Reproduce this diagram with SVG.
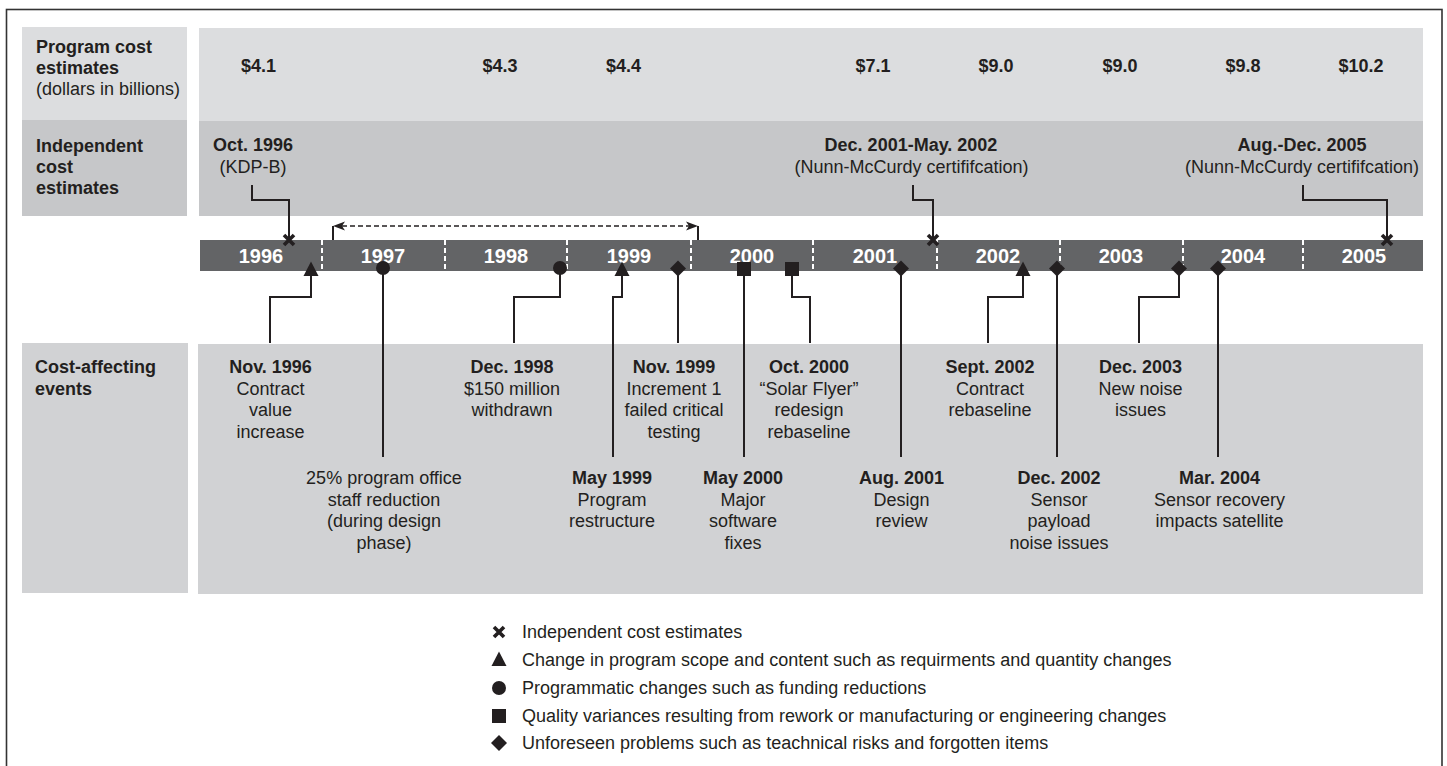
<svg xmlns="http://www.w3.org/2000/svg" width="1447" height="766" viewBox="0 0 1447 766">
<style>
text{font-family:"Liberation Sans",Arial,sans-serif;font-size:18px;fill:#231f20}
.b{font-weight:bold}
.c{text-anchor:middle}
.yr{font-weight:bold;font-size:20px;fill:#ffffff;text-anchor:middle}
.ln{fill:none;stroke:#231f20;stroke-width:2}
.dv{stroke:#ffffff;stroke-width:2;stroke-dasharray:5,3}
.mk{fill:#231f20}
</style>
<defs>
<path id="mx" d="M-5,-5L5,5M5,-5L-5,5" stroke="#231f20" stroke-width="3.6" fill="none"/>
<polygon id="mtri" points="0,-7.5 7.5,7 -7.5,7" class="mk"/>
<circle id="mcir" r="7" class="mk"/>
<rect id="msq" x="-7" y="-7" width="14" height="14" class="mk"/>
<polygon id="mdia" points="0,-8 8,0 0,8 -8,0" class="mk"/>
</defs>
<rect x="0" y="0" width="1447" height="766" fill="#ffffff"/>
<rect x="6.5" y="9.5" width="1435.5" height="780" fill="none" stroke="#333333" stroke-width="1.6"/>

<g id="row-program-cost">
<rect x="22" y="27" width="165" height="93" fill="#dcdddf"/>
<rect x="199" y="28" width="1224" height="93" fill="#dcdddf"/>
<text class="b" x="36" y="53">Program cost</text>
<text class="b" x="36" y="74">estimates</text>
<text x="36" y="95">(dollars in billions)</text>
<text class="b c" x="258.5" y="72">$4.1</text>
<text class="b c" x="500" y="72">$4.3</text>
<text class="b c" x="623.5" y="72">$4.4</text>
<text class="b c" x="873" y="72">$7.1</text>
<text class="b c" x="996" y="72">$9.0</text>
<text class="b c" x="1120" y="72">$9.0</text>
<text class="b c" x="1243" y="72">$9.8</text>
<text class="b c" x="1361" y="72">$10.2</text>
</g>

<g id="row-independent">
<rect x="22" y="120" width="165" height="96" fill="#c6c7c9"/>
<rect x="199" y="121" width="1224" height="95" fill="#c6c7c9"/>
<text class="b" x="36" y="152">Independent</text>
<text class="b" x="36" y="173">cost</text>
<text class="b" x="36" y="194">estimates</text>
<text class="b c" x="253" y="151">Oct. 1996</text>
<text class="c" x="253" y="173">(KDP-B)</text>
<text class="b c" x="911" y="151">Dec. 2001-May. 2002</text>
<text class="c" x="911.5" y="173">(Nunn-McCurdy certififcation)</text>
<text class="b c" x="1302" y="151">Aug.-Dec. 2005</text>
<text class="c" x="1302" y="173">(Nunn-McCurdy certififcation)</text>
</g>

<g id="row-events">
<rect x="22" y="343" width="166" height="250" fill="#d1d2d4"/>
<rect x="198" y="344" width="1225" height="250" fill="#d1d2d4"/>
<text class="b" x="35" y="373">Cost-affecting</text>
<text class="b" x="35" y="395">events</text>
</g>

<g id="timeline">
<rect x="200" y="240" width="1223" height="31" fill="#636466"/>
<line class="dv" x1="322" y1="240" x2="322" y2="271"/>
<line class="dv" x1="445" y1="240" x2="445" y2="271"/>
<line class="dv" x1="567" y1="240" x2="567" y2="271"/>
<line class="dv" x1="691" y1="240" x2="691" y2="271"/>
<line class="dv" x1="813" y1="240" x2="813" y2="271"/>
<line class="dv" x1="937" y1="240" x2="937" y2="271"/>
<line class="dv" x1="1060" y1="240" x2="1060" y2="271"/>
<line class="dv" x1="1183" y1="240" x2="1183" y2="271"/>
<line class="dv" x1="1303" y1="240" x2="1303" y2="271"/>
<text class="yr" x="261" y="263">1996</text>
<text class="yr" x="383" y="263">1997</text>
<text class="yr" x="506" y="263">1998</text>
<text class="yr" x="629" y="263">1999</text>
<text class="yr" x="752" y="263">2000</text>
<text class="yr" x="875" y="263">2001</text>
<text class="yr" x="998" y="263">2002</text>
<text class="yr" x="1121" y="263">2003</text>
<text class="yr" x="1243" y="263">2004</text>
<text class="yr" x="1364" y="263">2005</text>
</g>

<g id="connectors">
<path class="ln" d="M252,185V200H289V240"/>
<path class="ln" d="M913,185V200H933V240"/>
<path class="ln" d="M1303,185V200H1387V240"/>
<path class="ln" d="M333,240V226M698,240V226"/>
<line x1="342" y1="226" x2="689" y2="226" stroke="#231f20" stroke-width="1.5" stroke-dasharray="5,3"/>
<polygon points="333,226 345,221.5 342,226 345,230.5" class="mk"/>
<polygon points="698,226 686,221.5 689,226 686,230.5" class="mk"/>
<path class="ln" d="M311,271V297H270V343"/>
<path class="ln" d="M383,271V457"/>
<path class="ln" d="M560,271V297H514V343"/>
<path class="ln" d="M622,271V297H613V457"/>
<path class="ln" d="M678,271V343"/>
<path class="ln" d="M744,271V457"/>
<path class="ln" d="M792,271V297H810V343"/>
<path class="ln" d="M901,271V457"/>
<path class="ln" d="M1023,271V297H988V343"/>
<path class="ln" d="M1057,271V457"/>
<path class="ln" d="M1179,271V297H1139V343"/>
<path class="ln" d="M1218,271V457"/>
</g>

<g id="markers">
<use href="#mx" x="289" y="240"/>
<use href="#mx" x="933" y="240"/>
<use href="#mx" x="1387" y="240"/>
<use href="#mtri" x="311" y="269"/>
<use href="#mcir" x="383" y="268"/>
<use href="#mcir" x="560" y="268"/>
<use href="#mtri" x="622" y="269"/>
<use href="#mdia" x="678" y="268.5"/>
<use href="#msq" x="744" y="269"/>
<use href="#msq" x="792" y="269"/>
<use href="#mdia" x="901" y="268.5"/>
<use href="#mtri" x="1023" y="269"/>
<use href="#mdia" x="1057" y="268.5"/>
<use href="#mdia" x="1179" y="268.5"/>
<use href="#mdia" x="1218" y="268.5"/>
</g>

<g id="ev-nov1996"><text class="c" x="270.5" y="373"><tspan class="b">Nov. 1996</tspan><tspan x="270.5" dy="21.7">Contract</tspan><tspan x="270.5" dy="21.7">value</tspan><tspan x="270.5" dy="21.7">increase</tspan></text></g>
<g id="ev-staff"><text class="c" x="384" y="484">25% program office<tspan x="384" dy="21.7">staff reduction</tspan><tspan x="384" dy="21.7">(during design</tspan><tspan x="384" dy="21.7">phase)</tspan></text></g>
<g id="ev-dec1998"><text class="c" x="512" y="373"><tspan class="b">Dec. 1998</tspan><tspan x="512" dy="21.7">$150 million</tspan><tspan x="512" dy="21.7">withdrawn</tspan></text></g>
<g id="ev-may1999"><text class="c" x="612" y="484"><tspan class="b">May 1999</tspan><tspan x="612" dy="21.7">Program</tspan><tspan x="612" dy="21.7">restructure</tspan></text></g>
<g id="ev-nov1999"><text class="c" x="674" y="373"><tspan class="b">Nov. 1999</tspan><tspan x="674" dy="21.7">Increment 1</tspan><tspan x="674" dy="21.7">failed critical</tspan><tspan x="674" dy="21.7">testing</tspan></text></g>
<g id="ev-may2000"><text class="c" x="743" y="484"><tspan class="b">May 2000</tspan><tspan x="743" dy="21.7">Major</tspan><tspan x="743" dy="21.7">software</tspan><tspan x="743" dy="21.7">fixes</tspan></text></g>
<g id="ev-oct2000"><text class="c" x="809" y="373"><tspan class="b">Oct. 2000</tspan><tspan x="809" dy="21.7">“Solar Flyer”</tspan><tspan x="809" dy="21.7">redesign</tspan><tspan x="809" dy="21.7">rebaseline</tspan></text></g>
<g id="ev-aug2001"><text class="c" x="901.5" y="484"><tspan class="b">Aug. 2001</tspan><tspan x="901.5" dy="21.7">Design</tspan><tspan x="901.5" dy="21.7">review</tspan></text></g>
<g id="ev-sept2002"><text class="c" x="990" y="373"><tspan class="b">Sept. 2002</tspan><tspan x="990" dy="21.7">Contract</tspan><tspan x="990" dy="21.7">rebaseline</tspan></text></g>
<g id="ev-dec2002"><text class="c" x="1059" y="484"><tspan class="b">Dec. 2002</tspan><tspan x="1059" dy="21.7">Sensor</tspan><tspan x="1059" dy="21.7">payload</tspan><tspan x="1059" dy="21.7">noise issues</tspan></text></g>
<g id="ev-dec2003"><text class="c" x="1140.5" y="373"><tspan class="b">Dec. 2003</tspan><tspan x="1140.5" dy="21.7">New noise</tspan><tspan x="1140.5" dy="21.7">issues</tspan></text></g>
<g id="ev-mar2004"><text class="c" x="1219.5" y="484"><tspan class="b">Mar. 2004</tspan><tspan x="1219.5" dy="21.7">Sensor recovery</tspan><tspan x="1219.5" dy="21.7">impacts satellite</tspan></text></g>

<g id="legend">
<use href="#mx" x="499" y="632"/>
<use href="#mtri" x="499" y="659"/>
<use href="#mcir" x="499" y="688"/>
<use href="#msq" x="499" y="716"/>
<use href="#mdia" x="499" y="743"/>
<text x="522" y="638">Independent cost estimates</text>
<text x="522" y="666">Change in program scope and content such as requirments and quantity changes</text>
<text x="522" y="694">Programmatic changes such as funding reductions</text>
<text x="522" y="722">Quality variances resulting from rework or manufacturing or engineering changes</text>
<text x="522" y="749">Unforeseen problems such as teachnical risks and forgotten items</text>
</g>
</svg>
